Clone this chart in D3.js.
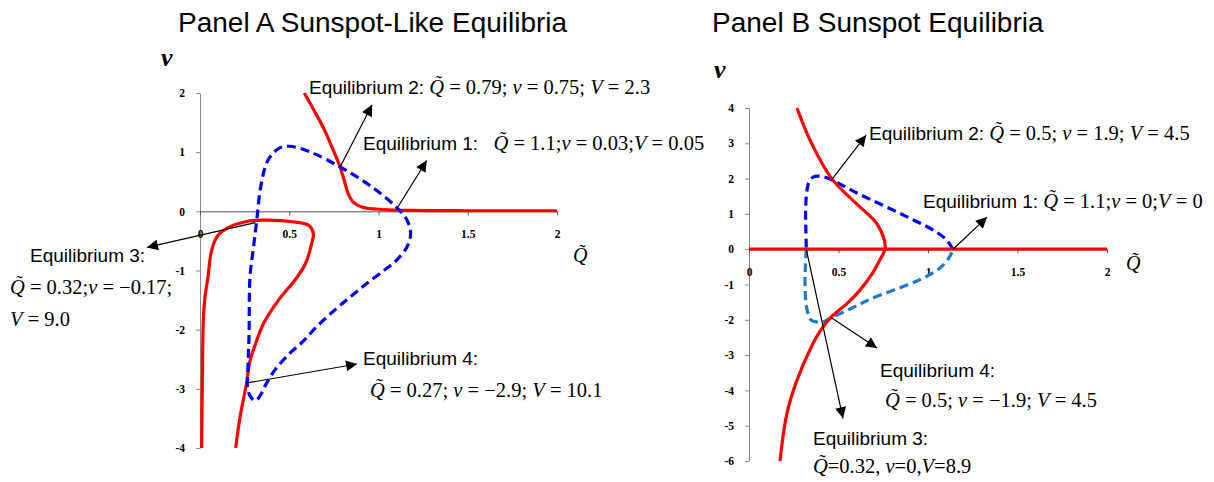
<!DOCTYPE html>
<html><head><meta charset="utf-8">
<script src="https://cdn.jsdelivr.net/npm/d3@7"></script>
<style>
body{margin:0;background:#fff;}
svg{display:block;}
.tick text{font-family:"Liberation Serif","Times New Roman",serif;font-weight:bold;font-size:11.5px;fill:#000;}
</style></head>
<body>
<svg id="chart" width="1214" height="482"></svg>
<script>
// ---------- DATA ----------
const titles = ["Panel A Sunspot-Like Equilibria", "Panel B Sunspot Equilibria"];
const xTickValues = [0, 0.5, 1, 1.5, 2];
const xTickLabels = ["0", "0.5", "1", "1.5", "2"];
const yTickValuesA = [2, 1, 0, -1, -2, -3, -4];
const yTickLabelsA = ["2", "1", "0", "-1", "-2", "-3", "-4"];
const yTickValuesB = [4, 3, 2, 1, 0, -1, -2, -3, -4, -5, -6];
const yTickLabelsB = ["4", "3", "2", "1", "0", "-1", "-2", "-3", "-4", "-5", "-6"];

// Panel A: red solid curves (Q~, v)
const redA1 = [[0.584,2],[0.64,1.7],[0.69,1.42],[0.74,1.08],[0.785,0.75],[0.81,0.5],[0.83,0.3],[0.86,0.15],[0.91,0.07],[1.03,0.03],[1.2,0.015],[1.5,0.01],[2,0.01]];
const redA2 = [[0.009,-4],[0.013,-2.9],[0.019,-1.8],[0.028,-1.45],[0.045,-1.1],[0.065,-0.66],[0.10,-0.41],[0.16,-0.27],[0.25,-0.18],[0.345,-0.15],[0.53,-0.18],[0.61,-0.24],[0.635,-0.38],[0.625,-0.55],[0.59,-0.89],[0.53,-1.17],[0.44,-1.5],[0.355,-1.9],[0.31,-2.25],[0.28,-2.53],[0.26,-2.92],[0.224,-3.48],[0.2,-4]];
// Panel A: blue dashed curve
const blueA = [[0.265,-2.95],[0.27,-2.5],[0.275,-2.07],[0.28,-1.11],[0.3,-0.6],[0.318,-0.15],[0.34,0.41],[0.38,0.86],[0.44,1.06],[0.5,1.1],[0.62,1.0],[0.785,0.75],[0.95,0.44],[1.1,0.07],[1.16,-0.15],[1.18,-0.38],[1.16,-0.6],[1.10,-0.83],[1.03,-1.0],[0.93,-1.23],[0.84,-1.45],[0.75,-1.68],[0.65,-1.96],[0.58,-2.19],[0.5,-2.41],[0.42,-2.68],[0.37,-2.92],[0.34,-3.1],[0.31,-3.2],[0.28,-3.12],[0.265,-2.95]];

// Panel B
const redB0 = [[0,0],[2,0]];
const redB1 = [[0.268,4],[0.341,3.09],[0.462,2.0],[0.6,1.29],[0.713,0.73],[0.756,0.255],[0.76,0],[0.73,-0.31],[0.69,-0.68],[0.62,-1.16],[0.55,-1.53],[0.46,-1.92],[0.40,-2.3],[0.35,-2.75],[0.268,-3.71],[0.212,-4.65],[0.173,-6]];
const blueBUpper = [[1.14,0],[1.1,0.28],[1.03,0.54],[0.93,0.8],[0.8,1.12],[0.6,1.6],[0.46,1.97],[0.41,2.06],[0.36,2.05],[0.335,1.9],[0.322,1.6],[0.316,1.0],[0.318,0.5],[0.32,0]];
const blueBLower = [[0.32,0],[0.315,-0.5],[0.313,-1.0],[0.32,-1.6],[0.335,-1.9],[0.35,-2.02],[0.41,-2.06],[0.46,-1.94],[0.57,-1.68],[0.68,-1.41],[0.9,-0.98],[1.0,-0.75],[1.07,-0.52],[1.12,-0.22],[1.14,0]];

// Annotations: arrow from point -> tip (data coords), label lines
const annA = [
  {from:[0.785,0.75], to:[0.964,1.80], lines:["Equilibrium 2: {Q} = 0.79; {n} = 0.75; {V} = 2.3"]},
  {from:[1.1,0.03], to:[1.27,0.86], lines:["Equilibrium 1:   {Q} = 1.1;{n} = 0.03;{V} = 0.05"]},
  {from:[0.31,-0.19], to:[-0.297,-0.61], lines:["Equilibrium 3:", "{Q} = 0.32;{n} = \u22120.17;", "{V} = 9.0"]},
  {from:[0.265,-2.9], to:[0.88,-2.58], lines:["Equilibrium 4:", "{Q} = 0.27; {n} = \u22122.9; {V} = 10.1"]}
];
const annB = [
  {from:[0.46,1.96], to:[0.654,3.23], lines:["Equilibrium 2: {Q} = 0.5; {n} = 1.9; {V} = 4.5"]},
  {from:[1.14,0], to:[1.33,0.91], lines:["Equilibrium 1: {Q} = 1.1;{n} = 0;{V} = 0"]},
  {from:[0.46,-1.94], to:[0.715,-2.8], lines:["Equilibrium 4:", "{Q} = 0.5; {n} = \u22121.9; {V} = 4.5"]},
  {from:[0.32,0], to:[0.525,-4.79], lines:["Equilibrium 3:", "{Q}=0.32, {n}=0,{V}=8.9"]}
];

// ---------- LAYOUT ----------
const svg = d3.select("#chart");
const SANS = "'Liberation Sans', Arial, sans-serif";
const SERIF = "'Liberation Serif', 'Times New Roman', serif";
const SANS_SIZE = "19px", MATH_SIZE = "20.5px";

// label layout: x of each line, first baseline, line height
const panels = [
  {title:titles[0], tx:178, ty:32, x:d3.scaleLinear([0,2],[200,557]), y:d3.scaleLinear([-4,2],[448,93]),
   yT:yTickValuesA, yL:yTickLabelsA, nu:[161,66], qlab:[573,262],
   curves:[{d:redA1,c:"#ff0000"},{d:redA2,c:"#ff0000"},{d:blueA,c:"#0000ff",dash:true}],
   ann:annA, labelPos:[{xs:[309],y:94},{xs:[363],y:150},{xs:[30,10,10],y:262,lh:32},{xs:[363,370],y:365,lh:32}]},
  {title:titles[1], tx:712, ty:32, x:d3.scaleLinear([0,2],[749,1107]), y:d3.scaleLinear([-6,4],[461,108]),
   yT:yTickValuesB, yL:yTickLabelsB, nu:[714,78], qlab:[1126,270],
   curves:[{d:blueBUpper,c:"#0000ff",dash:true},{d:blueBLower,c:"#1f78c8",dash:true},{d:redB0,c:"#ff0000"},{d:redB1,c:"#ff0000"}],
   ann:annB, labelPos:[{xs:[869],y:140},{xs:[923],y:208},{xs:[880,885],y:377,lh:30},{xs:[813,813],y:445,lh:28}]}
];

const defs = svg.append("defs");
defs.append("marker").attr("id","arr").attr("viewBox","0 0 10 10").attr("refX",10).attr("refY",5)
  .attr("markerWidth",13).attr("markerHeight",11).attr("markerUnits","userSpaceOnUse").attr("orient","auto")
  .append("path").attr("d","M0,0 L10,5 L0,10 z").attr("fill","#000");

function addRich(textSel, str){
  const parts = str.split(/(\{[QnV]\})/).filter(s=>s.length);
  parts.forEach((p,i)=>{
    if(i===0 && /^Equilibrium/.test(p)){
      const m = p.match(/^(Equilibrium \d:)(.*)$/);
      textSel.append("tspan").attr("font-family",SANS).attr("font-size",SANS_SIZE).text(m[1]);
      if(m[2]) textSel.append("tspan").attr("font-family",SERIF).attr("font-size",MATH_SIZE).text(m[2]);
    } else if(p==="{Q}"){
      textSel.append("tspan").attr("font-family",SERIF).attr("font-style","italic").attr("font-size",MATH_SIZE).text("Q\u0303");
    } else if(p==="{n}"){
      textSel.append("tspan").attr("font-family",SERIF).attr("font-style","italic").attr("font-size",MATH_SIZE).text("\u03bd");
    } else if(p==="{V}"){
      textSel.append("tspan").attr("font-family",SERIF).attr("font-style","italic").attr("font-size",MATH_SIZE).text("V");
    } else {
      textSel.append("tspan").attr("font-family",SERIF).attr("font-size",MATH_SIZE).text(p);
    }
  });
}

panels.forEach(P=>{
  const g = svg.append("g");
  g.append("text").attr("x",P.tx).attr("y",P.ty).attr("font-family",SANS).attr("font-size","28px").attr("fill","#000").text(P.title);

  // axes
  const yAxis = d3.axisLeft(P.y).tickValues(P.yT).tickFormat((d,i)=>P.yL[i]).tickSizeInner(4).tickSizeOuter(0).tickPadding(11);
  const ga = g.append("g").attr("transform",`translate(${P.x(0)},0)`).call(yAxis);
  ga.select(".domain").attr("stroke","#888");
  ga.selectAll(".tick line").attr("stroke","#888");
  const xAxis = d3.axisBottom(P.x).tickValues(xTickValues).tickFormat((d,i)=>xTickLabels[i]).tickSizeInner(4).tickSizeOuter(0).tickPadding(15);
  const gx = g.append("g").attr("transform",`translate(0,${P.y(0)})`).call(xAxis);
  gx.select(".domain").attr("stroke","#555");
  gx.selectAll(".tick line").attr("stroke","#555");

  // axis titles
  g.append("text").attr("x",P.nu[0]).attr("y",P.nu[1]).attr("font-family",SERIF).attr("font-style","italic").attr("font-weight","bold").attr("font-size","26px").text("\u03bd");
  g.append("text").attr("x",P.qlab[0]).attr("y",P.qlab[1]).attr("font-family",SERIF).attr("font-style","italic").attr("font-size","20px").text("Q\u0303");

  // curves
  const line = d3.line().x(d=>P.x(d[0])).y(d=>P.y(d[1])).curve(d3.curveCatmullRom.alpha(0.5));
  P.curves.forEach(c=>{
    g.append("path").attr("d",line(c.d)).attr("fill","none").attr("stroke",c.c)
      .attr("stroke-width",3.2).attr("stroke-dasharray",c.dash?"9,5":null).attr("stroke-linecap","butt");
  });

  // annotations
  P.ann.forEach((a,i)=>{
    g.append("line").attr("x1",P.x(a.from[0])).attr("y1",P.y(a.from[1]))
      .attr("x2",P.x(a.to[0])).attr("y2",P.y(a.to[1])).attr("stroke","#000").attr("stroke-width",1.2).attr("marker-end","url(#arr)");
    const lp = P.labelPos[i];
    a.lines.forEach((ln,j)=>{
      const t = g.append("text").attr("x",lp.xs[j]).attr("y",lp.y+j*(lp.lh||30)).attr("fill","#000").attr("xml:space","preserve");
      addRich(t, ln);
    });
  });
});
</script>
</body></html>
